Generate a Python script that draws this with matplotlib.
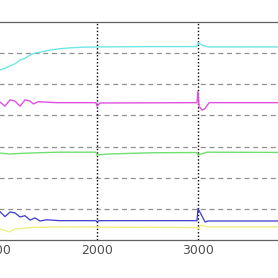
import numpy as np
import matplotlib.pyplot as plt

# sample index and signal levels
cyan_x = [1000, 1040, 1090, 1139, 1190, 1238, 1290, 1337, 1386, 1450, 1535, 1630, 1733, 1850, 2000, 2500, 2990, 3000, 3050, 3100, 4000]
cyan_y = [5.40, 5.46, 5.52, 5.59, 5.66, 5.78, 5.84, 5.94, 6.00, 6.04, 6.10, 6.14, 6.17, 6.19, 6.20, 6.21, 6.21, 6.33, 6.25, 6.20, 6.20]

mag_x = [1000, 1040, 1089, 1139, 1188, 1238, 1287, 1337, 1370, 1420, 1600, 1990, 2000, 2030, 2990, 3000, 3010, 3040, 3070, 3110, 4000]
mag_y = [4.45, 4.43, 4.30, 4.50, 4.46, 4.30, 4.50, 4.46, 4.37, 4.44, 4.41, 4.41, 4.30, 4.40, 4.41, 4.78, 4.30, 4.17, 4.22, 4.41, 4.41]

grn_x = [1000, 1040, 1139, 1238, 1400, 1634, 1990, 2000, 2100, 2525, 2990, 3000, 3090, 4000]
grn_y = [2.80, 2.79, 2.76, 2.78, 2.80, 2.82, 2.82, 2.73, 2.76, 2.80, 2.81, 2.73, 2.82, 2.81]

blu_x = [1000, 1040, 1089, 1139, 1188, 1238, 1287, 1337, 1386, 1436, 1500, 1634, 1990, 2000, 2020, 2990, 3000, 3070, 3100, 4000]
blu_y = [0.95, 0.91, 0.75, 0.90, 0.87, 0.74, 0.78, 0.64, 0.71, 0.61, 0.65, 0.62, 0.62, 0.58, 0.62, 0.62, 1.01, 0.58, 0.61, 0.61]

yel_x = [1000, 1040, 1139, 1188, 1337, 1600, 2990, 3000, 3030, 3100, 4000]
yel_y = [0.38, 0.35, 0.26, 0.35, 0.40, 0.42, 0.40, 0.35, 0.48, 0.42, 0.42]

xticks = [1000, 2000, 3000, 4000]
ylevels = [1, 2, 3, 4, 5, 6]

fig = plt.figure(figsize=(2.78, 2.78), dpi=100)
# axes is wider than the picture: left/right edges are cropped off
ax = fig.add_axes([-4 / 278, 38 / 278, 303 / 278, 218 / 278])

ax.plot(cyan_x, cyan_y, color='#6fe6e6', lw=1.0)
ax.plot(mag_x, mag_y, color='#e050e0', lw=1.0)
ax.plot(grn_x, grn_y, color='#70e070', lw=1.0)
ax.plot(blu_x, blu_y, color='#3a3ad0', lw=0.9)
ax.plot(yel_x, yel_y, color='#f0f080', lw=1.0)

ax.set_xlim(1000, 4000)
ax.set_ylim(0, 7)
ax.set_xticks(xticks)
ax.set_xticklabels([str(t) for t in xticks])
ax.set_yticks(ylevels)
ax.set_yticklabels([])

for y in ylevels:
    ax.axhline(y, color='#909090', ls=(0, (4, 3)), lw=0.9, zorder=0)
for x in xticks[1:3]:
    ax.axvline(x, color='black', ls=(0, (1, 1.5)), lw=1.0, zorder=0)

ax.tick_params(length=0, pad=3, labelsize=9, labelcolor='#505050')
for side in ['left', 'right']:
    ax.spines[side].set_visible(False)
for side in ['top', 'bottom']:
    ax.spines[side].set_color('#606060')
    ax.spines[side].set_linewidth(0.9)

fig.savefig('out.png', dpi=100)
